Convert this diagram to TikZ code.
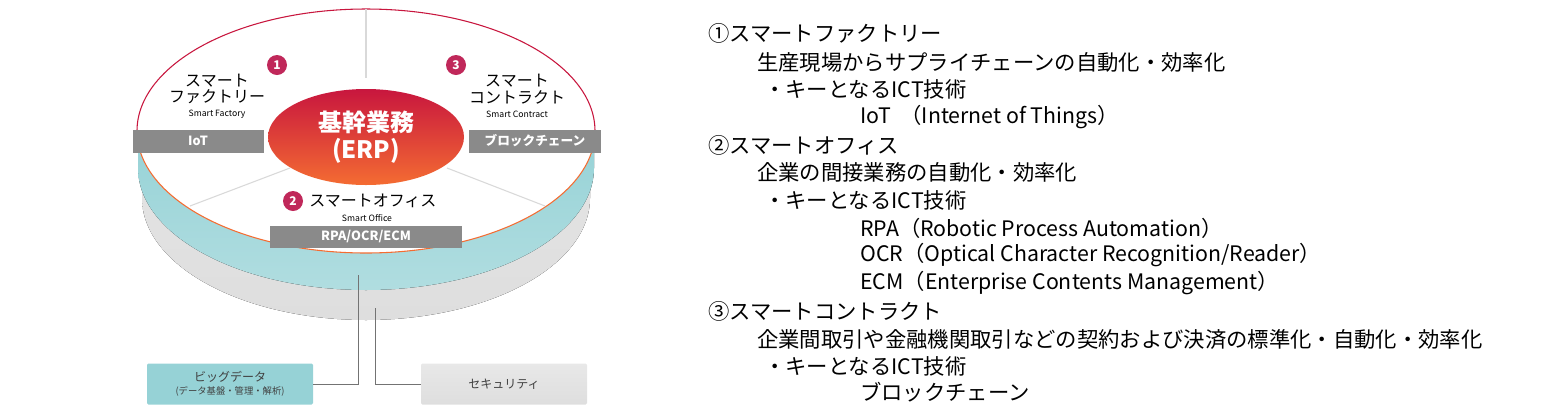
\documentclass[tikz,border=0pt]{standalone}
\usepackage{fontspec}
\setmainfont{Noto Sans CJK JP}
\usetikzlibrary{positioning}
\definecolor{erpred}{RGB}{200,22,62}
\definecolor{erporange}{RGB}{244,108,50}
\definecolor{numred}{RGB}{192,40,90}
\definecolor{bandgray}{RGB}{138,138,138}
\definecolor{tealband}{RGB}{150,210,214}
\definecolor{basegray}{RGB}{222,222,222}
\tikzset{
  banner/.style={fill=bandgray, text=white, font=\fontsize{9.5}{10}\selectfont\bfseries, inner sep=0pt},
  numdot/.style={circle, fill=numred, text=white, font=\fontsize{9}{10}\selectfont\bfseries, inner sep=0pt, minimum size=15pt},
  jptitle/.style={font=\fontsize{12}{12.5}\selectfont, align=center, inner sep=0pt},
  entitle/.style={font=\fontsize{6.5}{7}\selectfont, inner sep=0pt},
  sidebox/.style={rounded corners=1pt, inner sep=0pt, align=center, font=\fontsize{9}{10}\selectfont, text=black!75},
  conn/.style={draw=black!55, line width=0.6pt},
  txt/.style={anchor=west, inner sep=0pt, font=\fontsize{16}{17}\selectfont}
}
\begin{document}
\begin{tikzpicture}[x=0.75pt,y=0.75pt,yscale=-1,xscale=1]
\useasboundingbox (0,0) rectangle (1568,419);
% cylinder
\fill[top color=basegray!80, bottom color=basegray] (142,131) -- (142,198) arc[start angle=180,end angle=0,x radius=224,y radius=122] -- (590,131) -- cycle;
\fill[top color=tealband, bottom color=tealband!75!white] (138,131) -- (138,168) arc[start angle=180,end angle=0,x radius=228,y radius=122] -- (594,131) -- cycle;
\fill[white] (366,131) ellipse [x radius=229, y radius=122];
\draw[erpred, line width=0.8pt] (137,131) arc[start angle=180,end angle=360,x radius=229,y radius=122];
\draw[erporange, line width=0.8pt] (137,131) arc[start angle=180,end angle=0,x radius=229,y radius=122];
% dividers
\draw[black!15, line width=0.8pt] (366,9) -- (366,78);
\draw[black!15, line width=0.8pt] (290,168) -- (190,206);
\draw[black!15, line width=0.8pt] (447,168) -- (545,206);
% core
\shade[top color=erpred, bottom color=erporange] (366,137) ellipse [x radius=98, y radius=48];
\node[font=\fontsize{18}{20}\selectfont\bfseries, text=white, align=center] (erp) at (366,137) {基幹業務\\(ERP)};
% segments
\node[numdot] (n1) at (277,65) {1};
\node[numdot] (n3) at (456,65) {3};
\node[numdot] (n2) at (293,201) {2};
\node[jptitle] (sf) at (217,89) {スマート\\ファクトリー};
\node[entitle] (sfen) at (217,114) {Smart Factory};
\node[jptitle] (sc) at (517,89) {スマート\\コントラクト};
\node[entitle] (scen) at (517,114) {Smart Contract};
\node[jptitle, anchor=west] (so) at (309,201) {スマートオフィス};
\node[entitle] (soen) at (367,218) {Smart Office};
\node[banner, minimum width=131pt*0.75, minimum height=23pt*0.75] (iot) at (198,141) {IoT};
\node[banner, minimum width=132pt*0.75, minimum height=23pt*0.75] (bc) at (535,141) {ブロックチェーン};
\node[banner, minimum width=192pt*0.75, minimum height=22pt*0.75] (rpa) at (366,237) {RPA/OCR/ECM};
% bottom boxes
\node[sidebox, fill=tealband, minimum width=166pt*0.75, minimum height=41pt*0.75] (bd) at (230,384) {ビッグデータ\\{\fontsize{7}{8}\selectfont (データ基盤・管理・解析)}};
\node[sidebox, top color=basegray!70, bottom color=basegray, minimum width=166pt*0.75, minimum height=41pt*0.75] (sec) at (504,384) {セキュリティ};
\coordinate (c1) at (358,275);
\coordinate (c2) at (375,308);
\draw[conn] (c1) |- (bd.east);
\draw[conn] (c2) |- (sec.west);
% right text
\node[txt] (t1) at (708,33) {①スマートファクトリー};
\node[txt] (t2) at (757,62) {生産現場からサプライチェーンの自動化・効率化};
\node[txt] (t3) at (764,89) {・キーとなるICT技術};
\node[txt] (t4) at (860,117) {IoT\ \ （Internet of Things）};
\node[txt] (t5) at (708,145) {②スマートオフィス};
\node[txt] (t6) at (757,172) {企業の間接業務の自動化・効率化};
\node[txt] (t7) at (764,200) {・キーとなるICT技術};
\node[txt] (t8) at (860,228) {RPA（Robotic Process Automation）};
\node[txt] (t9) at (860,255) {OCR（Optical Character Recognition/Reader）};
\node[txt] (t10) at (860,283) {ECM（Enterprise Contents Management）};
\node[txt] (t11) at (708,311) {③スマートコントラクト};
\node[txt] (t12) at (757,339) {企業間取引や金融機関取引などの契約および決済の標準化・自動化・効率化};
\node[txt] (t13) at (764,366) {・キーとなるICT技術};
\node[txt] (t14) at (860,392) {ブロックチェーン};
\end{tikzpicture}
\end{document}
